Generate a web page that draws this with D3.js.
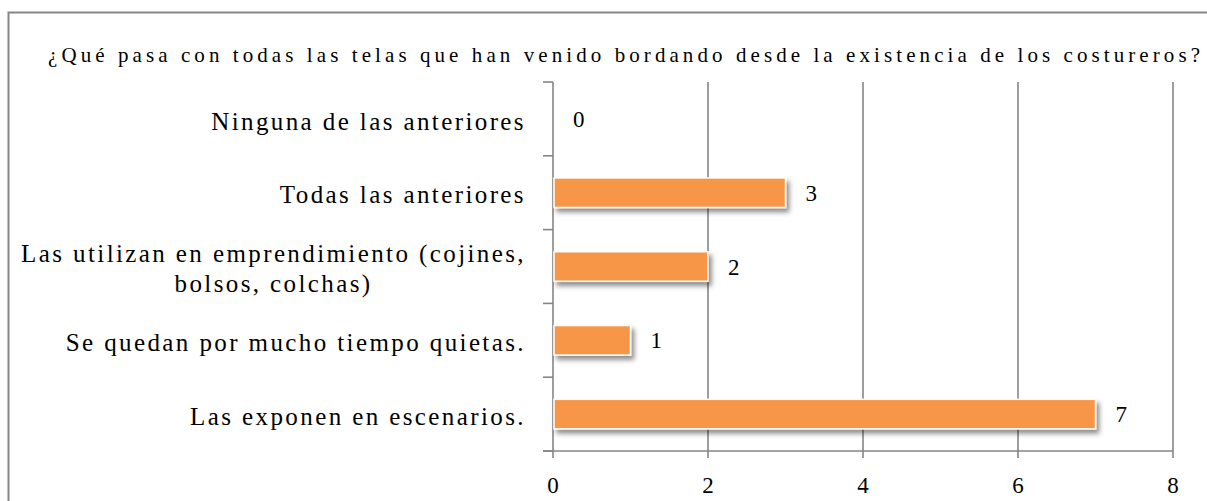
<!DOCTYPE html>
<html>
<head>
<meta charset="utf-8">
<script src="https://cdn.jsdelivr.net/npm/d3@7"></script>
<style>
  body { margin: 0; background: #fff; }
</style>
</head>
<body>
<div id="chart"></div>
<script>
// chart data
var title = "¿Qué pasa con todas las telas que han venido bordando desde la existencia de los costureros?";
var categories = [
  ["Ninguna de las anteriores"],
  ["Todas las anteriores"],
  ["Las utilizan en emprendimiento (cojines,", "bolsos, colchas)"],
  ["Se quedan por mucho tiempo quietas."],
  ["Las exponen en escenarios."]
];
var values = [0, 3, 2, 1, 7];
var xTicks = [0, 2, 4, 6, 8];

var serif = "'Liberation Serif', 'Times New Roman', Times, Tinos, 'Nimbus Roman', 'Nimbus Roman No9 L', FreeSerif, 'Noto Serif', 'DejaVu Serif', Georgia, serif";
var width = 1207, height = 501;
var margin = {top: 82, right: 32, bottom: 50, left: 553};

var svg = d3.select("#chart").append("svg")
  .attr("width", width)
  .attr("height", height)
  .style("font-family", serif);

// drop shadow for the bars
var defs = svg.append("defs");
var f = defs.append("filter").attr("id", "shadow")
  .attr("x", "-5%").attr("y", "-30%").attr("width", "115%").attr("height", "180%");
f.append("feDropShadow")
  .attr("dx", 3).attr("dy", 4)
  .attr("stdDeviation", 2.5)
  .attr("flood-color", "#000")
  .attr("flood-opacity", 0.45);

// outer chart border (right/bottom edges fall outside the window)
svg.append("rect")
  .attr("x", 8.5).attr("y", 12.5)
  .attr("width", 1220).attr("height", 520)
  .attr("fill", "none")
  .attr("stroke", "#868686")
  .attr("stroke-width", 2);

var x = d3.scaleLinear()
  .domain([0, 8])
  .range([margin.left, width - margin.right - 2]);

var y = d3.scaleBand()
  .domain(d3.range(categories.length))
  .range([margin.top, height - margin.bottom])
  .paddingInner(0.6)
  .paddingOuter(0.3);

var step = y.step();
var plotBottom = height - margin.bottom;

// vertical gridlines
svg.append("g")
  .selectAll("line")
  .data(xTicks.filter(d => d > 0))
  .enter().append("line")
  .attr("x1", d => x(d)).attr("x2", d => x(d))
  .attr("y1", margin.top).attr("y2", plotBottom + 7)
  .attr("stroke", "#868686")
  .attr("stroke-width", 1.6);

// category axis line + ticks between categories
var yAxis = svg.append("g");
yAxis.append("line")
  .attr("x1", x(0)).attr("x2", x(0))
  .attr("y1", margin.top).attr("y2", plotBottom + 7)
  .attr("stroke", "#868686").attr("stroke-width", 1.6);
yAxis.selectAll(".ytick")
  .data(d3.range(categories.length + 1))
  .enter().append("line")
  .attr("class", "ytick")
  .attr("x1", x(0) - 10).attr("x2", x(0))
  .attr("y1", i => margin.top + i * step)
  .attr("y2", i => margin.top + i * step)
  .attr("stroke", "#868686").attr("stroke-width", 1.6);

// value axis
svg.append("line")
  .attr("x1", x(0) - 10).attr("x2", x(8))
  .attr("y1", plotBottom).attr("y2", plotBottom)
  .attr("stroke", "#868686").attr("stroke-width", 1.6);

svg.append("g")
  .selectAll("text")
  .data(xTicks)
  .enter().append("text")
  .attr("x", d => x(d))
  .attr("y", plotBottom + 42)
  .attr("text-anchor", "middle")
  .attr("font-family", serif)
  .attr("font-size", 23)
  .text(d => d);

// bars (zero values get no bar)
var barData = values.map((v, i) => ({v: v, i: i})).filter(d => d.v > 0);
svg.append("g")
  .selectAll("rect")
  .data(barData)
  .enter().append("rect")
  .attr("x", x(0) + 1)
  .attr("y", d => y(d.i))
  .attr("width", d => x(d.v) - x(0) - 1)
  .attr("height", y.bandwidth())
  .attr("fill", "#F79646")
  .attr("stroke", "#fff")
  .attr("stroke-width", 1.5)
  .attr("filter", "url(#shadow)");

// value labels
svg.append("g")
  .selectAll("text")
  .data(values)
  .enter().append("text")
  .attr("x", d => x(d) + 20)
  .attr("y", (d, i) => y(i) + y.bandwidth() / 2)
  .attr("dy", "0.35em")
  .attr("font-family", serif)
  .attr("font-size", 23)
  .text(d => d);

svg.append("text")
  .attr("x", 48).attr("y", 62)
  .attr("font-family", serif)
  .attr("font-size", 21)
  .attr("textLength", 1152)
  .text(title);

// category labels
var labG = svg.append("g");
categories.forEach(function(lines, i) {
  var cy = y(i) + y.bandwidth() / 2;
  var t = labG.append("text")
    .attr("font-family", serif)
    .attr("font-size", 25)
    .attr("letter-spacing", 2.4)
    .attr("text-anchor", "middle");
  lines.forEach(function(l) {
    t.append("tspan").text(l);
  });
  var ws = [];
  t.selectAll("tspan").each(function() { ws.push(this.getComputedTextLength()); });
  var maxW = d3.max(ws);
  var cx = x(0) - 27 - maxW / 2;
  var lh = 30;
  var y0 = cy + 2 - (lines.length - 1) * lh / 2;
  t.selectAll("tspan")
    .attr("x", cx)
    .attr("y", (d, j) => y0 + j * lh)
    .attr("dy", "0.35em");
});
</script>
</body>
</html>
